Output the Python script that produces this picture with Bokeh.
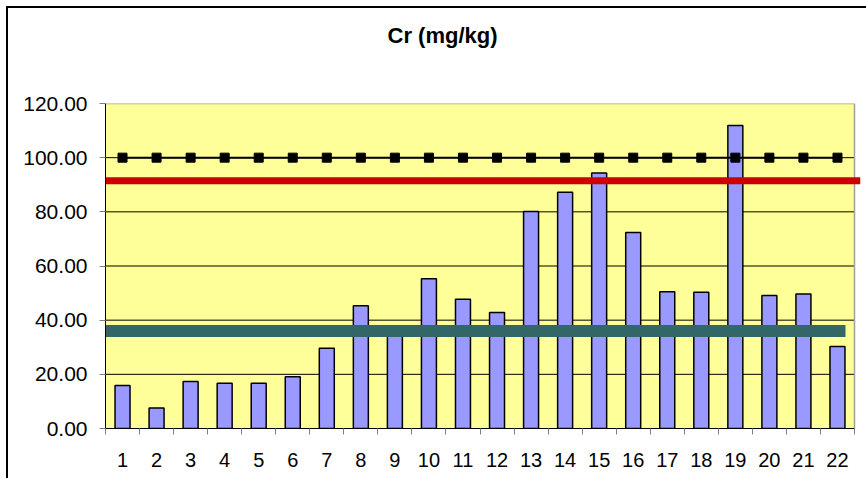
from bokeh.plotting import figure
from bokeh.models import Range1d, FixedTicker, PrintfTickFormatter, Span, Title
from bokeh.embed import file_html
from bokeh.resources import INLINE

categories = list(range(1, 23))
cr_values = [15.9, 7.6, 17.4, 16.7, 16.7, 19.1, 29.6, 45.3, 37.0, 55.3, 47.7,
             42.8, 80.1, 87.2, 94.3, 72.4, 50.5, 50.3, 111.9, 49.1, 49.7, 30.3]
limit_values = [100.0] * 22
red_level = 91.5
teal_level = 36.0
y_ticks = [0, 20, 40, 60, 80, 100, 120]
x_labels = [str(c) for c in categories]
title_text = "Cr (mg/kg)"

FONT = "Liberation Sans"
x_lo = categories[0] - 0.5
x_hi = categories[-1] + 0.5
px_per_unit = 749 / len(categories)

p = figure(title=None, output_backend="svg", toolbar_location=None,
           frame_width=755, frame_height=325,
           min_border_left=105, min_border_right=6, min_border_top=103, min_border_bottom=50,
           x_range=Range1d(x_lo, x_hi + 6 / px_per_unit),
           y_range=Range1d(y_ticks[0], y_ticks[-1]))
p.background_fill_color = "white"
p.border_fill_color = None
p.outline_line_color = None
p.xgrid.visible = False
p.ygrid.visible = False
p.styles = {
    "background-image": "linear-gradient(#000000, #000000), linear-gradient(#000000, #000000)",
    "background-size": "2px 100%, 100% 2px",
    "background-position": "6px 6px, 6px 6px",
    "background-repeat": "no-repeat",
}

# plot area background
p.quad(left=[x_lo], right=[x_hi], bottom=[y_ticks[0]], top=[y_ticks[-1]],
       fill_color="#FFFF99", line_color=None)
# grid lines
grid_vals = y_ticks[1:-1]
p.segment(x0=[x_lo] * len(grid_vals), x1=[x_hi] * len(grid_vals), y0=grid_vals, y1=grid_vals,
          line_color="#000000", line_width=1)
# plot area top/right border
p.segment(x0=[x_lo, x_hi], x1=[x_hi, x_hi], y0=[y_ticks[-1], y_ticks[0]], y1=[y_ticks[-1], y_ticks[-1]],
          line_color="#A0A0A0", line_width=1.5)

# bars
p.vbar(x=categories, top=cr_values, width=0.44, fill_color="#9999FF",
       line_color="#000000", line_width=1.5)

# limit line with markers
p.line(categories, limit_values, line_color="#000000", line_width=2)
p.scatter(categories, limit_values, marker="square", size=9,
          fill_color="#000000", line_color="#000000")

# reference levels
p.add_layout(Span(location=red_level, dimension="width", line_color="#CC0000", line_width=7))
p.segment(x0=[x_lo], x1=[x_hi - 9 / px_per_unit], y0=[teal_level], y1=[teal_level],
          line_color="#336666", line_width=12)

# axes
p.yaxis.ticker = FixedTicker(ticks=y_ticks)
p.yaxis.formatter = PrintfTickFormatter(format="%.2f")
p.yaxis.major_label_text_font = FONT
p.yaxis.major_label_text_font_size = "21px"
p.yaxis.major_label_text_color = "#000000"
p.yaxis.axis_line_color = "#000000"
p.yaxis.major_tick_line_color = "#808080"
p.yaxis.major_tick_out = 6
p.yaxis.major_tick_in = 0
p.yaxis.minor_tick_line_color = None
p.yaxis.major_label_standoff = 12

p.xaxis.ticker = FixedTicker(ticks=categories, minor_ticks=[c - 0.5 for c in categories] + [x_hi])
p.xaxis.bounds = (x_lo, x_hi)
p.xaxis.major_label_overrides = {c: l for c, l in zip(categories, x_labels)}
p.xaxis.major_label_text_font = FONT
p.xaxis.major_label_text_font_size = "20px"
p.xaxis.major_label_text_color = "#000000"
p.xaxis.axis_line_color = "#000000"
p.xaxis.major_tick_line_color = None
p.xaxis.major_tick_out = 6
p.xaxis.major_tick_in = 0
p.xaxis.minor_tick_line_color = "#808080"
p.xaxis.minor_tick_out = 6
p.xaxis.minor_tick_in = 0
p.xaxis.major_label_standoff = 18

# spacer panel between frame and title
p.add_layout(Title(text=" ", standoff=29, text_font=FONT, text_font_size="22px",
                   text_color="#FFFFFF"), "above")
p.add_layout(Title(text=title_text, align="left", offset=282, standoff=0,
                   vertical_align="bottom",
                   text_font=FONT, text_font_size="22px", text_font_style="bold",
                   text_color="#000000"), "above")

open("out.html", "w").write(file_html(p, INLINE))
